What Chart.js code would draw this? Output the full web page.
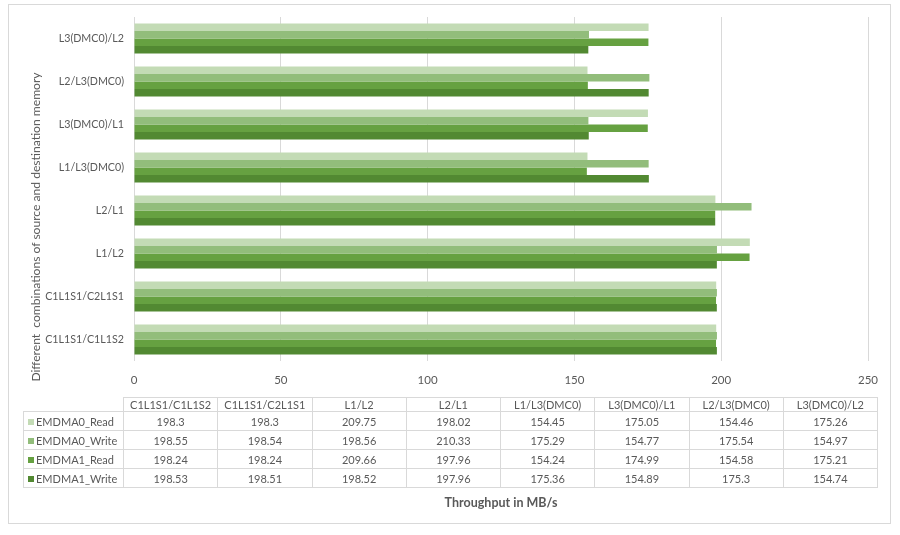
<!DOCTYPE html>
<html>
<head>
<meta charset="utf-8">
<script src="https://cdn.jsdelivr.net/npm/chart.js@4"></script>
<style>
  html, body { margin: 0; padding: 0; background: #fff; }
  body { width: 900px; height: 535px; position: relative; overflow: hidden; font-family: Lato, "Open Sans", sans-serif; }
  #frame { position: absolute; left: 8px; top: 4px; width: 883px; height: 520px; border: 1px solid #d9d9d9; box-sizing: border-box; }
  #chartBox { position: absolute; left: 0; top: 0; width: 900px; height: 392px; }
  #dataTable { position: absolute; left: 23px; top: 397px; border-collapse: collapse; table-layout: fixed; color: #595959; font-size: 11px; }
  #dataTable td { border: 1px solid #d9d9d9; text-align: center; padding: 0; white-space: nowrap; }
  #dataTable tr.head td { height: 13px; }
  #dataTable tr.row td { height: 18px; }
  #dataTable td.corner { border: none; }
  #dataTable td.key { text-align: left; padding-left: 4px; }
  .sw { display: inline-block; width: 6px; height: 6px; margin-right: 2px; vertical-align: 1px; }
  #xTitle { position: absolute; left: 134px; width: 734px; top: 495px; text-align: center; font-weight: bold; font-size: 12.5px; color: #595959; }
  #yTitle { position: absolute; left: 36px; top: 227px; width: 400px; margin-left: -200px; margin-top: -8px; height: 16px; line-height: 16px;
            text-align: center; font-size: 12.1px; color: #595959; transform: rotate(-90deg); white-space: pre; }
</style>
</head>
<body>
<div id="frame"></div>
<div id="chartBox"><canvas id="tputChart"></canvas></div>
<div id="yTitle">Different  combinations of source and destination memory</div>
<table id="dataTable"></table>
<div id="xTitle">Throughput in MB/s</div>
<script>
const routes = ["C1L1S1/C1L1S2", "C1L1S1/C2L1S1", "L1/L2", "L2/L1", "L1/L3(DMC0)", "L3(DMC0)/L1", "L2/L3(DMC0)", "L3(DMC0)/L2"];
const emdma0Read  = [198.3, 198.3, 209.75, 198.02, 154.45, 175.05, 154.46, 175.26];
const emdma0Write = [198.55, 198.54, 198.56, 210.33, 175.29, 154.77, 175.54, 154.97];
const emdma1Read  = [198.24, 198.24, 209.66, 197.96, 154.24, 174.99, 154.58, 175.21];
const emdma1Write = [198.53, 198.51, 198.52, 197.96, 175.36, 154.89, 175.3, 154.74];
const xTicks = [0, 50, 100, 150, 200, 250];

const series = [
    { name: "EMDMA0_Read",  values: emdma0Read,  color: "#c3dbb5" },
    { name: "EMDMA0_Write", values: emdma0Write, color: "#92bd7b" },
    { name: "EMDMA1_Read",  values: emdma1Read,  color: "#66a141" },
    { name: "EMDMA1_Write", values: emdma1Write, color: "#528932" }
];

// build the data table under the chart
const table = document.getElementById("dataTable");
let html = '<colgroup><col style="width:100px">' + routes.map(() => '<col style="width:94.25px">').join("") + '</colgroup>';
html += '<tr class="head"><td class="corner"></td>' + routes.map(r => `<td>${r}</td>`).join("") + '</tr>';
for (const s of series) {
    html += `<tr class="row"><td class="key"><span class="sw" style="background:${s.color}"></span>${s.name}</td>`
        + s.values.map(v => `<td>${v}</td>`).join("") + '</tr>';
}
table.innerHTML = html;

// chart: first category at the bottom, so feed it reversed
const ctx = document.getElementById("tputChart").getContext("2d");
new Chart(ctx, {
    type: 'bar',
    data: {
        labels: routes.slice().reverse(),
        datasets: series.map(s => ({
            label: s.name,
            data: s.values.slice().reverse(),
            backgroundColor: s.color,
            borderWidth: 0,
            categoryPercentage: 0.7,
            barPercentage: 1.0
        }))
    },
    options: {
        indexAxis: 'y',
        responsive: true,
        maintainAspectRatio: false,
        animation: false,
        layout: { padding: { top: 17, right: 32, left: 0, bottom: 0 } },
        plugins: {
            legend: { display: false },
            tooltip: { enabled: false }
        },
        scales: {
            x: {
                min: 0,
                max: 250,
                afterBuildTicks: scale => { scale.ticks = xTicks.map(v => ({ value: v })); },
                afterFit: scale => { scale.height = 31; },
                grid: { color: '#d9d9d9', drawTicks: false },
                border: { display: false },
                ticks: { color: '#595959', font: { family: 'Lato', size: 11.5 }, padding: 12 }
            },
            y: {
                afterFit: scale => { scale.width = 134; },
                grid: { display: false, drawTicks: false },
                border: { display: false },
                ticks: { color: '#595959', font: { family: 'Lato', size: 10.7 }, padding: 10 }
            }
        }
    }
});
</script>
</body>
</html>
